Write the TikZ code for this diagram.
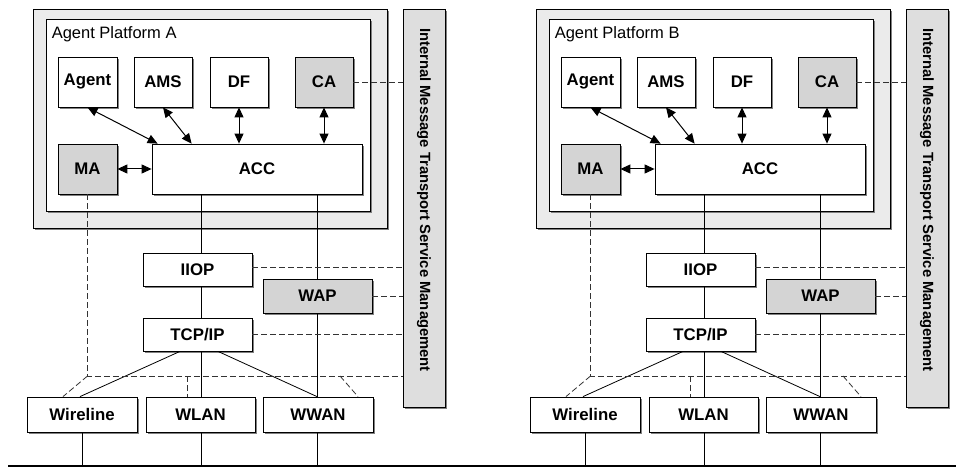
\documentclass[tikz,border=0pt]{standalone}
\usepackage{fontspec}
\setmainfont{Liberation Sans}
\usetikzlibrary{arrows.meta,shadows}
\definecolor{platgray}{HTML}{EBEBEB}
\definecolor{boxgray}{HTML}{D4D4D4}
\definecolor{mgmtgray}{HTML}{DEDEDE}
\definecolor{shade}{HTML}{808080}
\tikzset{
  shadowed/.style={drop shadow={shadow xshift=2.2pt,shadow yshift=-2.2pt,fill=shade,opacity=1}},
  frame/.style={draw=black,line width=0.8pt,shadowed,inner sep=0pt},
  unit/.style={frame,fill=white,font=\bfseries\fontsize{16.8}{19}\selectfont},
  grayunit/.style={unit,fill=boxgray},
  link/.style={line width=0.8pt},
  dualarrow/.style={line width=1pt,{Triangle[length=10pt,width=9pt]}-{Triangle[length=10pt,width=9pt]}},
  mgmtlink/.style={line width=0.8pt,draw=black!80,dash pattern=on 6pt off 3pt},
}
\begin{document}
\begin{tikzpicture}[x=1pt,y=-1pt]
\useasboundingbox (0,0) rectangle (956,468);

\foreach \p/\dx in {A/0,B/503}{
\begin{scope}[xshift=\dx pt]
  % platform frames
  \node[frame,fill=platgray,minimum width=354pt,minimum height=219pt] (frame\p) at (210,118.5) {};
  \node[frame,fill=white,minimum width=324pt,minimum height=192pt] (plat\p) at (208,115) {};
  \node[anchor=north west,inner sep=0pt,font=\fontsize{16.5}{19}\selectfont]
    (title\p) at ([shift={(6pt,-8pt)}]plat\p.north west) {Agent Platform \p};

  % platform components
  \node[unit,minimum width=59pt,minimum height=50pt] (Agent\p) at (87.5,82) {Agent};
  \node[unit,minimum width=58pt,minimum height=50pt] (AMS\p) at (163,82) {AMS};
  \node[unit,minimum width=58pt,minimum height=50pt] (DF\p) at (239,82) {DF};
  \node[grayunit,minimum width=58pt,minimum height=50pt] (CA\p) at (324,82) {CA};
  \node[grayunit,minimum width=59pt,minimum height=50pt] (MA\p) at (87.5,169) {MA};
  \node[unit,minimum width=210pt,minimum height=50pt] (ACC\p) at (257,169) {ACC};

  % transport stack
  \node[unit,minimum width=109pt,minimum height=33pt] (IIOP\p) at (197.5,269.5) {IIOP};
  \node[grayunit,minimum width=109pt,minimum height=34pt] (WAP\p) at (317.5,296) {WAP};
  \node[unit,minimum width=109pt,minimum height=33pt] (TCP\p) at (197.5,334.5) {TCP/IP};
  \node[unit,minimum width=110pt,minimum height=35pt] (Wire\p) at (82,414.5) {Wireline};
  \node[unit,minimum width=109pt,minimum height=35pt] (WLAN\p) at (200.5,414.5) {WLAN};
  \node[unit,minimum width=110pt,minimum height=35pt] (WWAN\p) at (318,414.5) {WWAN};

  % management column
  \node[frame,fill=mgmtgray,minimum width=42pt,minimum height=398pt] (Mgmt\p) at (424,208) {};
  \node[rotate=-90,inner sep=0pt,font=\bfseries\fontsize{14.8}{17}\selectfont]
    (mgmtlabel\p) at (424,200) {Internal Message Transport Service Management};

  \coordinate (stack\p) at (201,0);
  \coordinate (bus\p) at (0,466);
  \coordinate (corner\p) at (87.5,376);

  % message paths inside the platform
  \draw[dualarrow] (Agent\p.south) -- ([xshift=6pt]ACC\p.north west);
  \draw[dualarrow] (AMS\p.south) -- ([xshift=40pt]ACC\p.north west);
  \draw[dualarrow] (DF\p.south) -- (DF\p.south |- ACC\p.north);
  \draw[dualarrow] (CA\p.south) -- (CA\p.south |- ACC\p.north);
  \draw[dualarrow] (MA\p.east) -- (ACC\p.west);

  % protocol links
  \draw[link] (ACC\p.south -| stack\p) -- (IIOP\p.north -| stack\p);
  \draw[link] (IIOP\p.south -| stack\p) -- (TCP\p.north -| stack\p);
  \draw[link] (TCP\p.south -| stack\p) -- (WLAN\p.north -| stack\p);
  \draw[link] ([xshift=-45pt]ACC\p.south east) -- ([xshift=-45pt]ACC\p.south east |- WAP\p.north);
  \draw[link] (WAP\p.south) -- (WAP\p.south |- WWAN\p.north);
  \draw[link] ([xshift=-17.5pt]TCP\p.south) -- ([xshift=-2pt]Wire\p.north);
  \draw[link] ([xshift=20.5pt]TCP\p.south) -- ([xshift=-1pt]WWAN\p.north);
  \draw[link] (Wire\p.south) -- (Wire\p.south |- bus\p);
  \draw[link] (WLAN\p.south -| stack\p) -- (stack\p |- bus\p);
  \draw[link] ([xshift=-1pt]WWAN\p.south) -- ([xshift=-1pt]WWAN\p.south |- bus\p);

  % management links
  \draw[mgmtlink] (CA\p.east) -- (CA\p.east -| Mgmt\p.west);
  \draw[mgmtlink] ([yshift=2pt]IIOP\p.east) -- ([yshift=2pt]IIOP\p.east -| Mgmt\p.west);
  \draw[mgmtlink] (WAP\p.east) -- (WAP\p.east -| Mgmt\p.west);
  \draw[mgmtlink] (TCP\p.east) -- (TCP\p.east -| Mgmt\p.west);
  \draw[mgmtlink] (MA\p.south) -- (corner\p) -- (corner\p -| Mgmt\p.west);
  \draw[mgmtlink] (corner\p) -- ([xshift=-19pt]Wire\p.north);
  \draw[mgmtlink] ([xshift=100pt]corner\p) -- ([xshift=100pt]corner\p |- WLAN\p.north);
  \draw[mgmtlink] ([xshift=252.5pt]corner\p) -- ([xshift=40pt]WWAN\p.north);
\end{scope}
}

% network bus
\coordinate (busL) at (8,466);
\coordinate (busR) at (956,466);
\draw[line width=2.2pt] (busL) -- (busR);
\end{tikzpicture}
\end{document}
